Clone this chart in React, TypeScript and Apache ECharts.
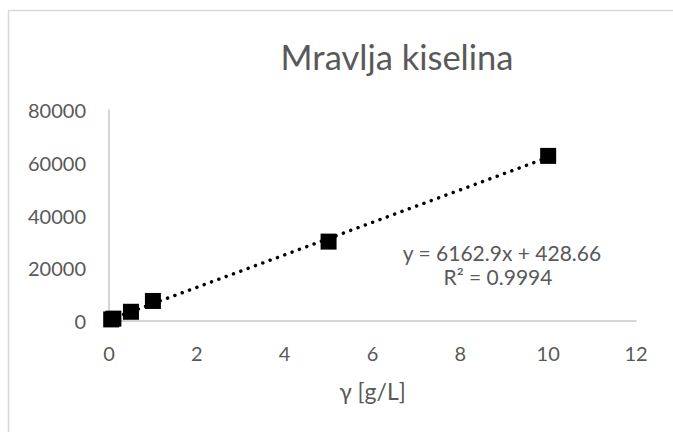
import React, { useEffect, useRef } from "react";
import * as echarts from "echarts";

const titleText = "Mravlja kiselina";
const xAxisName = "γ [g/L]";
const concentrations = [0.05, 0.1, 0.5, 1, 5, 10];
const peakAreas = [600, 900, 3500, 7600, 30100, 62600];
const trendSlope = 6162.9;
const trendIntercept = 428.66;
const trendRange = [0, 10];
const equationText = "y = 6162.9x + 428.66";
const r2Text = "R² = 0.9994";

const FONT = "Lato";
const GRAY = "#595959";

export default function App() {
  const ref = useRef<HTMLDivElement>(null);
  useEffect(() => {
    document.body.style.margin = "0";
    const chart = echarts.init(ref.current!, null, { renderer: "svg" });
    const trendData = trendRange.map((x) => [x, trendSlope * x + trendIntercept]);
    chart.setOption({
      animation: false,
      backgroundColor: "#ffffff",
      grid: { left: 109, right: 37, top: 110, bottom: 111 },
      xAxis: {
        type: "value",
        min: 0,
        max: 12,
        interval: 2,
        name: xAxisName,
        nameLocation: "middle",
        nameGap: 58,
        nameTextStyle: { color: GRAY, fontFamily: FONT, fontSize: 23 },
        axisLine: { show: true, lineStyle: { color: "#c8c8c8", width: 1.5 } },
        axisTick: { show: false },
        splitLine: { show: false },
        axisLabel: { color: GRAY, fontFamily: FONT, fontSize: 20, margin: 22 },
      },
      yAxis: {
        type: "value",
        min: 0,
        max: 80000,
        interval: 20000,
        axisLine: { show: true, lineStyle: { color: "#c8c8c8", width: 1.5 } },
        axisTick: { show: false },
        splitLine: { show: false },
        axisLabel: {
          color: GRAY,
          fontFamily: FONT,
          fontSize: 20,
          margin: 23,
          formatter: (v: number) => String(v),
        },
      },
      series: [
        {
          type: "line",
          data: trendData,
          showSymbol: false,
          symbol: "none",
          lineStyle: { color: "#000", width: 3.5, type: [0.01, 7.8], cap: "round", opacity: 1 },
          z: 2,
        },
        {
          type: "scatter",
          data: concentrations.map((x, i) => [x, peakAreas[i]]),
          symbol: "rect",
          symbolSize: 16,
          itemStyle: { color: "#000", opacity: 1 },
          z: 3,
        },
      ],
      graphic: [
        {
          type: "rect",
          shape: { x: 8.5, y: 10.5, width: 720, height: 500 },
          style: { fill: "none", stroke: "#d9d9d9", lineWidth: 1.5 },
          silent: true,
        },
        {
          type: "text",
          x: 397,
          y: 56,
          style: {
            text: titleText,
            fill: GRAY,
            font: `34.5px ${FONT}`,
            textAlign: "center",
            textVerticalAlign: "middle",
          },
        },
        {
          type: "text",
          x: 502,
          y: 252,
          style: {
            text: equationText,
            fill: GRAY,
            font: `21px ${FONT}`,
            textAlign: "center",
            textVerticalAlign: "middle",
          },
        },
        {
          type: "text",
          x: 498,
          y: 276,
          style: {
            text: r2Text,
            fill: GRAY,
            font: `21px ${FONT}`,
            textAlign: "center",
            textVerticalAlign: "middle",
          },
        },
      ],
    });
    return () => chart.dispose();
  }, []);
  return <div ref={ref} style={{ width: 673, height: 432 }} />;
}
